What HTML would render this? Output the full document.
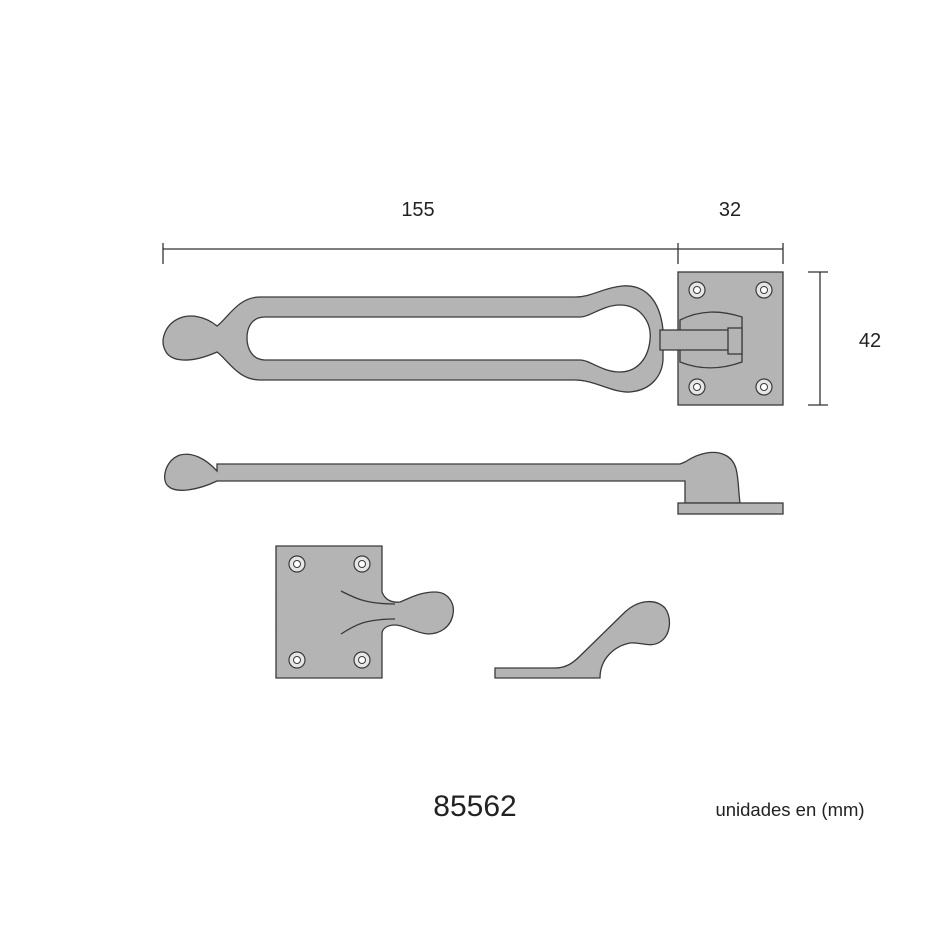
<!DOCTYPE html>
<html><head><style>body{margin:0;background:#fff}svg{display:block}text{font-family:"Liberation Sans",sans-serif;fill:#222}</style></head>
<body>
<svg width="950" height="950" viewBox="0 0 950 950" xmlns="http://www.w3.org/2000/svg">
<g stroke="#333" stroke-width="1.3" fill="none">
<line x1="163" y1="249" x2="783" y2="249"/>
<line x1="163" y1="243" x2="163" y2="264"/>
<line x1="678" y1="243" x2="678" y2="264"/>
<line x1="783" y1="243" x2="783" y2="264"/>
<line x1="820" y1="272" x2="820" y2="405"/>
<line x1="808" y1="272" x2="828" y2="272"/>
<line x1="808" y1="405" x2="828" y2="405"/>
</g>
<text x="418" y="216" font-size="20" text-anchor="middle">155</text>
<text x="730" y="216" font-size="20" text-anchor="middle">32</text>
<text x="870" y="347" font-size="20" text-anchor="middle">42</text>
<g fill="#b4b4b4" stroke="#3a3a3a" stroke-width="1.3">
<rect x="678" y="272" width="105" height="133"/>
<path fill-rule="evenodd" d="M217 326 C205 316 190 314 180 318 C165 324 160 340 165 350 C170 362 190 364 217 352 C228 360 238 380 260 380 L575 380 C595 380 612 393 630 392 C652 390 662 375 663 360 L663 330 C660 300 645 284 622 286 C602 288 592 297 575 297 L260 297 C238 297 228 318 217 326 Z
M265 317 L580 317 C590 317 603 305 620 305 C640 305 652 322 650 340 C648 360 636 372 620 372 C602 372 590 360 580 360 L265 360 C252 360 247 348 247 338 C247 327 252 317 265 317 Z"/>
<path d="M680 320 C700 310 720 310 742 317 L742 362 C720 370 700 370 680 362 Z"/>
<rect x="660" y="330" width="76" height="20"/>
<rect x="728" y="328" width="14" height="26"/>
<path d="M217 471 C205 458 192 452 180 455 C165 460 161 480 168 486 C176 494 198 490 217 481 L685 481 L685 503 L740 503 C737 480 740 462 725 455 C715 450 700 452 685 462 L680 464 L217 464 Z"/>
<rect x="678" y="503" width="105" height="11"/>
<path d="M276 546 L382 546 L382 592 C385 600 392 603 400 602 C410 598 420 592 435 592 C448 592 455 603 453 614 C451 627 440 634 428 634 C415 633 405 625 395 625 C388 625 382 628 382 634 L382 678 L276 678 Z"/>
<path d="M341 591 C355 598 365 604 395 604 M341 634 C355 625 365 619 395 619" fill="none"/>
<path d="M495 668 L555 668 C565 668 572 664 580 656 L625 612 C638 600 655 598 665 608 C672 618 671 635 660 642 C650 648 642 642 630 643 C615 646 600 658 600 678 L495 678 Z"/>
</g>
<g fill="#e6e6e6" stroke="#3a3a3a" stroke-width="1.2">
<circle cx="697" cy="290" r="8"/><circle cx="764" cy="290" r="8"/><circle cx="697" cy="387" r="8"/><circle cx="764" cy="387" r="8"/>
<circle cx="297" cy="564" r="8"/><circle cx="362" cy="564" r="8"/><circle cx="297" cy="660" r="8"/><circle cx="362" cy="660" r="8"/>
</g>
<g fill="#fff" stroke="#3a3a3a" stroke-width="1">
<circle cx="697" cy="290" r="3.5"/><circle cx="764" cy="290" r="3.5"/><circle cx="697" cy="387" r="3.5"/><circle cx="764" cy="387" r="3.5"/>
<circle cx="297" cy="564" r="3.5"/><circle cx="362" cy="564" r="3.5"/><circle cx="297" cy="660" r="3.5"/><circle cx="362" cy="660" r="3.5"/>
</g>
<text x="475" y="816" font-size="30" text-anchor="middle">85562</text>
<text x="790" y="816" font-size="18.5" text-anchor="middle">unidades en (mm)</text>
</svg>
</body></html>
